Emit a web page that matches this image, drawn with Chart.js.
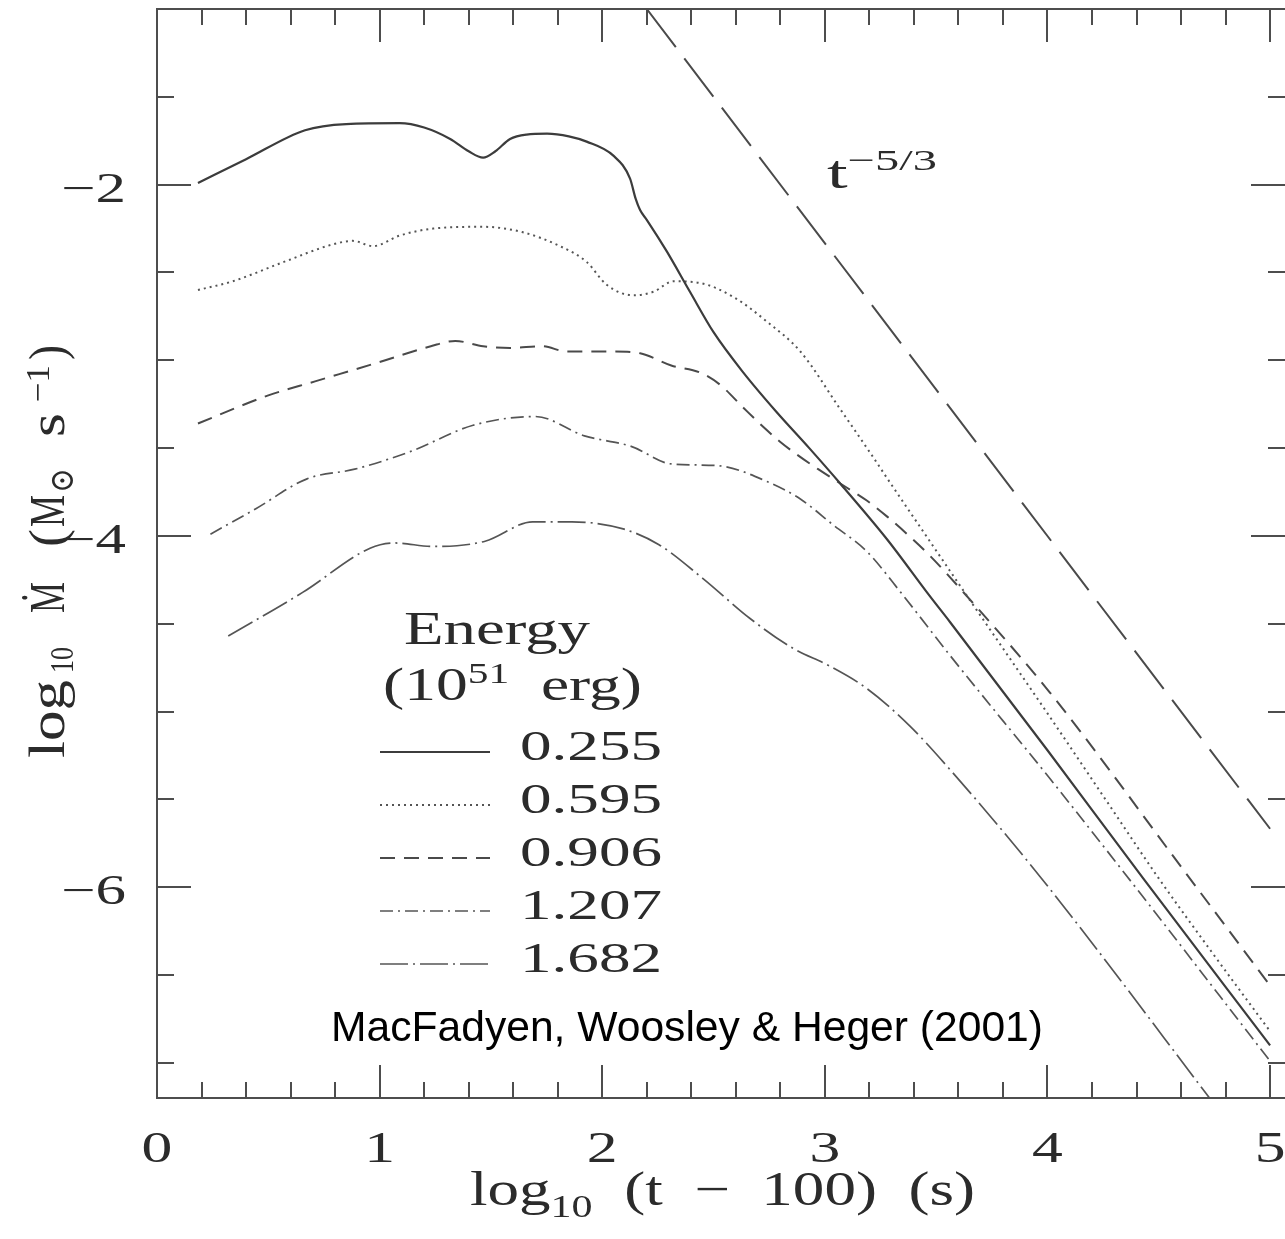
<!DOCTYPE html>
<html>
<head>
<meta charset="utf-8">
<script src="https://cdn.jsdelivr.net/npm/chart.js@4.4.1/dist/chart.umd.min.js"></script>
<style>
  html, body { margin: 0; padding: 0; background: #fff; }
  canvas { display: block; }
</style>
</head>
<body>
<canvas id="mdot-chart" width="1285" height="1239"></canvas>
<script>
// log10 Mdot (Msun/s) against log10(t - 100 s)
const energyLabels = ['0.255', '0.595', '0.906', '1.207', '1.682'];

const t255 = [0.184, 0.40, 0.665, 0.85, 1.09, 1.20, 1.317, 1.40, 1.465, 1.52, 1.586, 1.66, 1.752, 1.85, 1.93, 2.05, 2.125, 2.15, 2.17, 2.20, 2.29, 2.394, 2.50, 2.634, 2.78, 2.93, 3.068, 3.28, 3.47, 3.562, 4.0, 4.43, 5.0];
const m255 = [-1.99, -1.855, -1.69, -1.655, -1.65, -1.675, -1.74, -1.81, -1.846, -1.81, -1.74, -1.715, -1.71, -1.725, -1.755, -1.835, -1.966, -2.08, -2.145, -2.20, -2.38, -2.61, -2.84, -3.07, -3.29, -3.50, -3.70, -4.02, -4.34, -4.49, -5.22, -5.95, -6.90];

const t595 = [0.184, 0.34, 0.57, 0.79, 0.88, 0.97, 1.09, 1.24, 1.465, 1.64, 1.81, 1.93, 2.02, 2.14, 2.23, 2.32, 2.44, 2.59, 2.74, 2.89, 3.07, 3.2, 3.3, 3.45, 3.6, 3.8, 4.0, 4.25, 4.5, 4.75, 5.0];
const m595 = [-2.60, -2.55, -2.44, -2.34, -2.32, -2.35, -2.29, -2.25, -2.24, -2.27, -2.35, -2.44, -2.57, -2.63, -2.61, -2.55, -2.56, -2.64, -2.78, -2.95, -3.28, -3.52, -3.71, -3.99, -4.27, -4.64, -5.01, -5.48, -5.95, -6.39, -6.82];

const t906 = [0.184, 0.5, 0.71, 1.0, 1.23, 1.34, 1.465, 1.586, 1.73, 1.84, 2.05, 2.17, 2.31, 2.44, 2.53, 2.634, 2.724, 2.80, 2.878, 2.97, 3.08, 3.19, 3.28, 3.37, 3.47, 3.65, 4.01, 4.61, 5.0];
const m906 = [-3.36, -3.20, -3.12, -3.01, -2.92, -2.89, -2.92, -2.93, -2.92, -2.95, -2.95, -2.96, -3.03, -3.07, -3.14, -3.27, -3.38, -3.465, -3.54, -3.62, -3.71, -3.80, -3.89, -3.99, -4.11, -4.36, -4.89, -5.90, -6.56];

const t1207 = [0.24, 0.444, 0.674, 0.888, 1.137, 1.42, 1.70, 1.92, 2.13, 2.31, 2.52, 2.74, 2.89, 3.04, 3.19, 3.34, 3.562, 4.01, 4.34, 5.0];
const m1207 = [-3.99, -3.845, -3.675, -3.62, -3.52, -3.37, -3.32, -3.43, -3.49, -3.59, -3.60, -3.69, -3.79, -3.94, -4.09, -4.32, -4.68, -5.38, -5.91, -6.99];

const t1682 = [0.32, 0.656, 0.957, 1.065, 1.244, 1.474, 1.687, 1.864, 2.094, 2.255, 2.45, 2.664, 2.857, 3.02, 3.19, 3.38, 3.562, 3.967, 4.80];
const m1682 = [-4.57, -4.32, -4.07, -4.04, -4.06, -4.03, -3.92, -3.92, -3.96, -4.05, -4.24, -4.47, -4.64, -4.74, -4.87, -5.08, -5.33, -5.94, -7.32];

// t^-5/3 reference line
const tPowerLaw = [2.2, 5.0];
const mPowerLaw = [-1.0, -5.667];

const xTickLabels = [0, 1, 2, 3, 4, 5];
const yTickLabels = [-2, -4, -6];

const SERIF = '"Liberation Serif", "DejaVu Serif", serif';
const SANS = '"Liberation Sans", Arial, sans-serif';

function pts(xs, ys) {
    return xs.map((x, i) => ({ x: x, y: ys[i] }));
}

const curveStyles = [
    { color: '#3c3c3c', width: 2.2, dash: [] },
    { color: '#555555', width: 2, dash: [2, 4] },
    { color: '#4a4a4a', width: 2, dash: [15, 9] },
    { color: '#555555', width: 1.7, dash: [13, 5, 2, 5] },
    { color: '#555555', width: 1.7, dash: [28, 5, 2, 5] }
];
const curves = [[t255, m255], [t595, m595], [t906, m906], [t1207, m1207], [t1682, m1682]];

const datasets = curves.map((c, i) => ({
    label: energyLabels[i],
    data: pts(c[0], c[1]),
    borderColor: curveStyles[i].color,
    borderWidth: curveStyles[i].width,
    borderDash: curveStyles[i].dash,
    cubicInterpolationMode: 'monotone',
    pointRadius: 0,
    fill: false
}));
datasets.push({
    label: 't^-5/3',
    data: pts(tPowerLaw, mPowerLaw),
    borderColor: '#4a4a4a',
    borderWidth: 2,
    borderDash: [48, 14],
    pointRadius: 0,
    fill: false
});

function scaledText(ctx, text, x, y, size, sx, align, family) {
    ctx.save();
    ctx.translate(x, y);
    ctx.scale(sx, 1);
    ctx.font = size + 'px ' + (family || SERIF);
    ctx.textAlign = align || 'left';
    ctx.textBaseline = 'alphabetic';
    ctx.fillText(text, 0, 0);
    ctx.restore();
}

// text runs (sub/superscripts) stretched to cover a given width
function fitRuns(ctx, runs, x, y, width) {
    let natural = 0;
    runs.forEach(r => {
        ctx.font = r.size + 'px ' + (r.family || SERIF);
        r.w = ctx.measureText(r.text).width;
        natural += r.w;
    });
    ctx.save();
    ctx.translate(x, y);
    ctx.scale(width / natural, 1);
    ctx.textAlign = 'left';
    ctx.textBaseline = 'alphabetic';
    let cx = 0;
    runs.forEach(r => {
        ctx.font = r.size + 'px ' + (r.family || SERIF);
        ctx.fillText(r.text, cx, r.dy || 0);
        cx += r.w;
    });
    ctx.restore();
}

// one rotated run of the y title, from screen y0 (bottom) up to y1
function rotRun(ctx, text, size, baseX, y0, y1, dy) {
    ctx.font = size + 'px ' + SERIF;
    const w = ctx.measureText(text).width;
    ctx.save();
    ctx.translate(baseX, y0);
    ctx.rotate(-Math.PI / 2);
    ctx.scale((y0 - y1) / w, 1.4);
    ctx.textAlign = 'left';
    ctx.textBaseline = 'alphabetic';
    ctx.fillText(text, 0, (dy || 0) / 1.4);
    ctx.restore();
}

const decor = {
    id: 'decor',
    afterDraw(chart) {
        const ctx = chart.ctx;
        const a = chart.chartArea;
        const xs = chart.scales.x;
        const ys = chart.scales.y;

        ctx.save();
        ctx.strokeStyle = '#4d4d4d';
        ctx.lineWidth = 2;
        ctx.setLineDash([]);
        ctx.beginPath();
        ctx.moveTo(a.right, a.top);
        ctx.lineTo(a.left, a.top);
        ctx.lineTo(a.left, a.bottom);
        ctx.lineTo(a.right, a.bottom);
        ctx.stroke();

        // inward ticks
        ctx.beginPath();
        for (let i = 1; i <= 25; i++) {
            const px = Math.round(xs.getPixelForValue(i * 0.2));
            if (px > a.right) break;
            const len = i % 5 === 0 ? 33 : 16;
            ctx.moveTo(px, a.bottom); ctx.lineTo(px, a.bottom - len);
            ctx.moveTo(px, a.top); ctx.lineTo(px, a.top + len);
        }
        for (let k = 0; k <= 11; k++) {
            const v = -7 + k * 0.5;
            const py = Math.round(ys.getPixelForValue(v));
            const len = yTickLabels.includes(v) ? 34 : 17;
            ctx.moveTo(a.left, py); ctx.lineTo(a.left + len, py);
            ctx.moveTo(a.right, py); ctx.lineTo(a.right - len, py);
        }
        ctx.stroke();

        ctx.fillStyle = '#2b2b2b';
        xTickLabels.forEach(v => {
            scaledText(ctx, String(v), xs.getPixelForValue(v), 1162, 44, 1.4, 'center');
        });
        yTickLabels.forEach(v => {
            scaledText(ctx, '\u2212' + Math.abs(v), 126, ys.getPixelForValue(v) + 17, 42, 1.45, 'right');
        });

        // axis titles
        fitRuns(ctx, [
            { text: 'log', size: 48 },
            { text: '10', size: 32, dy: 12 },
            { text: '  (t  \u2212  100)  (s)', size: 48 }
        ], 470, 1205, 505);

        rotRun(ctx, 'log', 36, 64, 758, 680);
        rotRun(ctx, '10', 24, 64, 673, 647, 9);
        rotRun(ctx, '\u1E40', 36, 64, 613, 582);
        rotRun(ctx, '(', 36, 64, 547, 529);
        rotRun(ctx, 'M', 36, 64, 527, 495);
        rotRun(ctx, '\u2299', 24, 64, 493, 468, 9);
        rotRun(ctx, 's', 36, 64, 437, 413);
        rotRun(ctx, '\u22121', 24, 64, 402, 365, -15);
        rotRun(ctx, ')', 36, 64, 360, 345);

        // legend
        fitRuns(ctx, [{ text: 'Energy', size: 46 }], 404, 644, 186);
        fitRuns(ctx, [
            { text: '(10', size: 46 },
            { text: '51', size: 30, dy: -17 },
            { text: '  erg)', size: 46 }
        ], 383, 700, 259);
        chart.data.datasets.slice(0, 5).forEach((ds, i) => {
            const base = 760 + i * 53;
            const yl = base - 8;
            ctx.save();
            ctx.strokeStyle = ds.borderColor;
            ctx.lineWidth = ds.borderWidth;
            ctx.setLineDash(ds.borderDash);
            ctx.beginPath();
            ctx.moveTo(380, yl);
            ctx.lineTo(490, yl);
            ctx.stroke();
            ctx.restore();
            fitRuns(ctx, [{ text: ds.label, size: 42 }], 520, base, 142);
        });

        // power-law label
        fitRuns(ctx, [
            { text: 't', size: 46 },
            { text: '\u22125/3', size: 30, dy: -18 }
        ], 827, 188, 110);

        ctx.fillStyle = '#000';
        fitRuns(ctx, [{ text: 'MacFadyen, Woosley & Heger (2001)', size: 42, family: SANS }], 331, 1041, 712);
        ctx.restore();
    }
};

const ctx = document.getElementById('mdot-chart').getContext('2d');
new Chart(ctx, {
    type: 'line',
    data: { datasets: datasets },
    options: {
        responsive: false,
        animation: false,
        layout: { padding: { top: 9, left: 0, right: 0, bottom: 0 } },
        plugins: { legend: { display: false }, tooltip: { enabled: false } },
        scales: {
            x: {
                type: 'linear',
                min: 0,
                max: 5.067,
                grid: { display: false },
                border: { display: false },
                ticks: { display: false },
                afterBuildTicks: s => { s.ticks = xTickLabels.map(v => ({ value: v })); },
                afterFit: s => { s.height = 141; }
            },
            y: {
                type: 'linear',
                min: -7.2,
                max: -1.0,
                grid: { display: false },
                border: { display: false },
                ticks: { display: false },
                afterBuildTicks: s => { s.ticks = yTickLabels.map(v => ({ value: v })); },
                afterFit: s => { s.width = 157; }
            }
        }
    },
    plugins: [decor]
});
</script>
</body>
</html>
